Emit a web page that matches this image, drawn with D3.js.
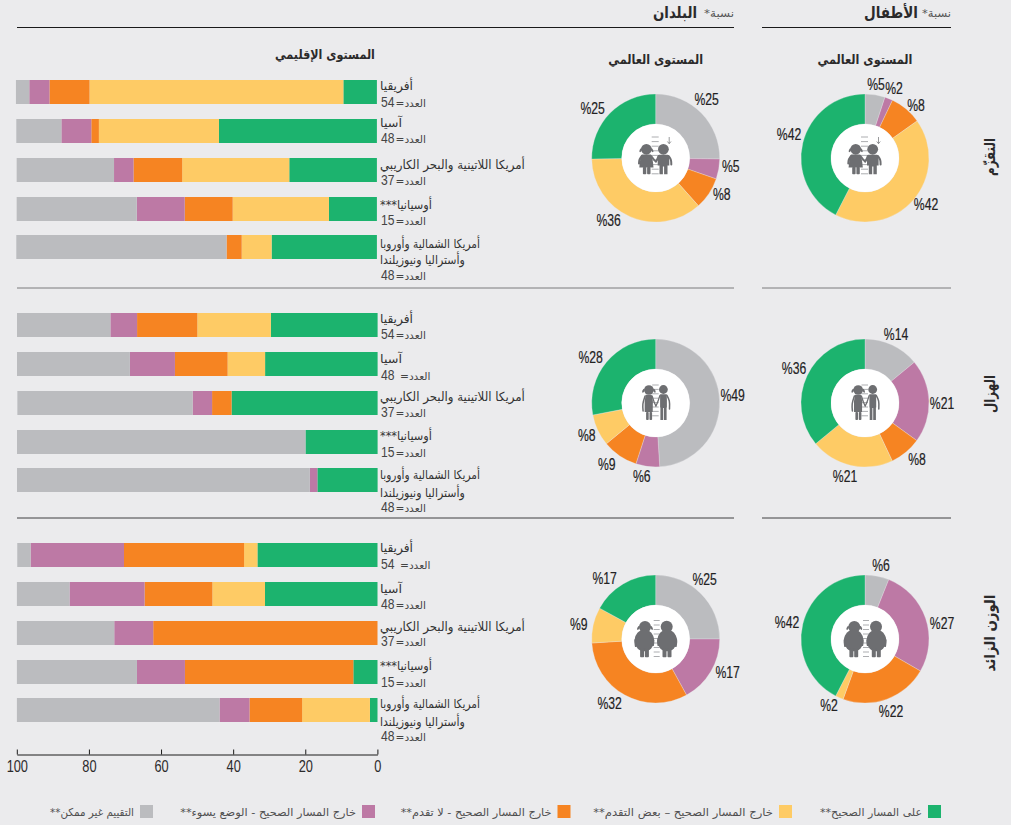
<!DOCTYPE html>
<html lang="ar"><head><meta charset="utf-8">
<script src="https://cdn.jsdelivr.net/npm/d3@7"></script>
<style>
html,body{margin:0;padding:0;background:#ebebed}
svg{display:block}
text{fill:#2b2a2b}
</style></head><body><div id="chart"></div>
<script>
// ---------- data ----------
const statusLabels = ["على المسار الصحيح**","خارج المسار الصحيح – بعض التقدم**","خارج المسار الصحيح - لا تقدم**","خارج المسار الصحيح - الوضع يسوء**","التقييم غير ممكن**"];
const statusKeys = ["onTrack","someProgress","noProgress","worsening","notAssessed"];
const statusColors = ["#1cb36e","#fecb65","#f68422","#bd79a5","#bbbcbf"];
const regionNames = [["أفريقيا"],["آسيا"],["أمريكا اللاتينية والبحر الكاريبي"],["أوسيانيا***"],["أمريكا الشمالية وأوروبا","وأستراليا ونيوزيلندا"]];
const regionCounts = [54,48,37,15,48];
const axisTicks = [100,80,60,40,20,0];
const sideTitles = ["التقزّم","الهزال","الوزن الزائد"];

// regional shares, in region order; one list per status
const stuntingOnTrack = [9.3,43.8,24.3,13.3,29.2];
const stuntingSome = [70.4,33.3,29.7,26.7,8.3];
const stuntingNone = [11.1,2.1,13.5,13.3,4.2];
const stuntingWorse = [5.6,8.3,5.4,13.3,0];
const stuntingNA = [3.7,12.5,27,33.3,58.3];

const wastingOnTrack = [29.6,31.2,40.5,20,16.7];
const wastingSome = [20.4,10.4,0,0,0];
const wastingNone = [16.7,14.6,5.4,0,0];
const wastingWorse = [7.4,12.5,5.4,0,2.1];
const wastingNA = [25.9,31.3,48.6,80,81.2];

const overweightOnTrack = [33.3,31.2,0,6.7,2.1];
const overweightSome = [3.7,14.6,0,0,18.8];
const overweightNone = [33.3,18.8,62.2,46.7,14.6];
const overweightWorse = [25.9,20.8,10.8,13.3,8.3];
const overweightNA = [3.7,14.6,27,33.3,56.2];

// global shares, clockwise from 12 o'clock: not assessed, worsening, no progress, some progress, on track
const donutOrder = ["notAssessed","worsening","noProgress","someProgress","onTrack"];
const stuntingChildren = [5,2,8,42,42];
const stuntingCountries = [25,5,8,36,25];
const wastingChildren = [14,21,8,21,36];
const wastingCountries = [49,6,9,8,28];
const overweightChildren = [6,27,22,2,42];
const overweightCountries = [25,17,32,9,17];

// ---------- layout ----------
const W = 1011, H = 825;
const svg = d3.select("#chart").append("svg").attr("width",W).attr("height",H)
  .style("background","#ebebed");
const latin = "'Liberation Sans',sans-serif";
const arab = "'DejaVu Sans',sans-serif";

const x = d3.scaleLinear().domain([100,0]).range([16.8,377.4]);
const color = d3.scaleOrdinal().domain(statusKeys).range(statusColors);
const stack = d3.stack().keys(statusKeys);
const barH = 24;
const pie = d3.pie().sort(null).value(d=>d.value);
const arc = d3.arc().innerRadius(34).outerRadius(64);

// squeeze text horizontally to a target width, around its anchor point
function fit(sel,w){
  const n = sel.node(), px = +sel.attr("x"), py = +sel.attr("y");
  const s = w/n.getComputedTextLength();
  return sel.attr("x",0).attr("y",0).attr("transform",`translate(${px},${py}) scale(${s},1)`);
}
function condense(sel,f){
  sel.each(function(){
    const t = d3.select(this), px = +t.attr("x"), py = +t.attr("y");
    t.attr("x",0).attr("y",0).attr("transform",`translate(${px},${py}) scale(${f},1)`);
  });
  return sel;
}
function label(g,t,px,py,size,w,opts={}){
  const s = g.append("text").attr("x",px).attr("y",py).text(t)
    .style("font-family",opts.font||arab).style("font-size",size+"px")
    .style("font-weight",opts.bold?"bold":"normal")
    .style("direction","rtl").attr("text-anchor",opts.anchor||"end");
  if(opts.fill) s.style("fill",opts.fill);
  if(w) fit(s,w);
  return s;
}

const nameWidths = [[33],[22],[145],[52],[100,85]];

const panels = [
 { dx:-0.5, tops:[80,119,158,197,235], series:[stuntingOnTrack,stuntingSome,stuntingNone,stuntingWorse,stuntingNA],
   bases:[[90,107],[127,143],[169,185],[209,225],[248,264,280]], gaps:[false,false,false,false,false] },
 { dx:0.2, tops:[313,352,391,430,468], series:[wastingOnTrack,wastingSome,wastingNone,wastingWorse,wastingNA],
   bases:[[323,339],[363,380],[401,417],[440,457],[479,497,512]], gaps:[false,true,false,false,false] },
 { dx:0.1, tops:[543,582,621,660,698], series:[overweightOnTrack,overweightSome,overweightNone,overweightWorse,overweightNA],
   bases:[[552,569],[593,609],[631,646],[670,687],[708,726,741]], gaps:[true,false,false,false,false] }
];

// bars
panels.forEach((p,pi)=>{
  const table = regionCounts.map((n,i)=>{
    const row = {i};
    statusKeys.forEach((k,j)=> row[k]=p.series[j][i]);
    return row;
  });
  const g = svg.append("g").attr("class","panel");
  g.append("g").attr("transform",`translate(${p.dx},0)`)
    .selectAll("g.layer").data(stack(table)).join("g").attr("class","layer")
    .attr("fill",d=>color(d.key))
    .selectAll("rect").data(d=>d).join("rect")
      .attr("x",d=>x(d[1]))
      .attr("width",d=>x(d[0])-x(d[1]))
      .attr("y",d=>p.tops[d.data.i])
      .attr("height",barH);
  regionNames.forEach((lines,i)=>{
    lines.forEach((ln,li)=> label(g,ln,380,p.bases[i][li],12.5,nameWidths[i][li],{fill:"#333"}));
    const base = p.bases[i][lines.length];
    const num = g.append("text").attr("x",381).attr("y",base).text(regionCounts[i])
      .style("font-family",latin).style("font-size","15px").style("fill","#444");
    fit(num,13.5);
    const word = g.append("text").attr("x",p.gaps[i]?400:395.5).attr("y",base).text("العدد=")
      .style("direction","rtl").attr("text-anchor","end")
      .style("font-family",arab).style("font-size","10px").style("fill","#444");
    fit(word,30.5);
  });
});

// rules
[[27.5,"#1a1a1a"],[288,"#7a7a7c"],[518,"#3f3f40"]].forEach(([y,c])=>{
  [[17,734],[762,951]].forEach(([a,b])=>{
    svg.append("line").attr("x1",a).attr("x2",b).attr("y1",y).attr("y2",y)
      .attr("stroke",c).attr("stroke-width",1);
  });
});

// axis
const axis = d3.axisBottom(x).tickValues(axisTicks).tickSize(-5).tickSizeOuter(0).tickPadding(0);
const ax = svg.append("g").attr("transform","translate(0,754.5)").call(axis);
ax.select(".domain").attr("stroke","#1a1a1a").attr("stroke-width",1);
ax.selectAll(".tick line").attr("stroke","#1a1a1a").attr("stroke-width",1);
ax.selectAll(".tick text").attr("x",0).attr("y",17).attr("dy",null)
  .style("font-family",latin).style("font-size","16px").style("fill","#2b2a2b")
  .call(condense,0.8);

// headers
label(svg,"نسبة*",951,17,11,29,{fill:"#555",anchor:"start"});
label(svg,"الأطفال",918,18,16,54,{bold:true,anchor:"start"});
label(svg,"نسبة*",734,17,11,30,{fill:"#555",anchor:"start"});
label(svg,"البلدان",697,18,16,44,{bold:true,anchor:"start"});
label(svg,"المستوى الإقليمي",325,59,13,100,{bold:true,anchor:"middle"});
label(svg,"المستوى العالمي",655.7,64,13,95,{bold:true,anchor:"middle"});
label(svg,"المستوى العالمي",865,64,13,95,{bold:true,anchor:"middle"});

// side titles
[[157,38],[394,38],[633,77]].forEach(([cy,w],i)=>{
  const s = svg.append("text").attr("text-anchor","middle").style("direction","rtl")
    .style("font-family",arab).style("font-size","15px").style("font-weight","bold").text(sideTitles[i]);
  const k = w/s.node().getComputedTextLength();
  s.attr("transform",`translate(995,${cy}) rotate(-90) scale(${k},1)`);
});

// children icons, drawn around the donut centre
const iconGrey = "#6d6e71";
function rungs(g,x0,x1,y0,y1,step){
  d3.range(y0,y1+0.01,step).forEach(y=>g.append("line").attr("x1",x0).attr("x2",x1).attr("y1",y).attr("y2",y)
    .attr("stroke","#a3a4a7").attr("stroke-width",0.9));
}
function limb(g,pts,w){
  g.append("path").attr("d",d3.line().curve(d3.curveCatmullRom)(pts)).attr("fill","none")
   .attr("stroke",iconGrey).attr("stroke-width",w).attr("stroke-linecap","round");
}
function fill(g,d){ g.append("path").attr("d",d).attr("fill",iconGrey); }
function circ(g,cx,cy,r){ g.append("circle").attr("cx",cx).attr("cy",cy).attr("r",r).attr("fill",iconGrey); }
function box(g,bx,by,w,h){ g.append("rect").attr("x",bx).attr("y",by).attr("width",w).attr("height",h).attr("rx",0.8).attr("fill",iconGrey); }
function tail(g,cx,cy,rot){ g.append("ellipse").attr("rx",2.1).attr("ry",1).attr("fill",iconGrey).attr("transform",`translate(${cx},${cy}) rotate(${rot})`); }
const icons = {
 stunted(g){
  rungs(g,-4,3,-21,16,4.6);
  circ(g,-9.3,-8.7,5.4); tail(g,-15,-7.8,-62); tail(g,-3.6,-7.8,62);
  fill(g,"M-13-3.4H-5.6Q-3-2-2.2 9.5H-16.4Q-15.6-2-13-3.4Z");
  limb(g,[[-13.6,-2.4],[-16,1.5],[-16.6,5.5]],2.2);
  limb(g,[[-5,-2.4],[-2.4,0.8],[0.2,3.5]],2);
  box(g,-12.8,9,3.4,7.2); box(g,-8.6,9,3.4,7.2);
  circ(g,7.7,-8.7,5.4);
  fill(g,"M3.4-3.2H12Q13.6-3.2 13.6-1V7.5H11.8V16.2H8.4V8.5H7.2V16.2H3.8V7.5H2V-1Q2-3.2 3.4-3.2Z");
  limb(g,[[2.8,-1.8],[1.4,1.5],[0.2,3.5]],2);
  limb(g,[[13,-1.8],[15.2,2],[15.6,6.5]],2);
  g.append("path").attr("d","M13.5-21V-14.5M11.7-16.5L13.5-14.3L15.3-16.5").attr("fill","none").attr("stroke",iconGrey).attr("stroke-width",0.7);
 },
 wasted(g){
  rungs(g,-3.5,3,-18,17,4.4);
  circ(g,-6.8,-13,4.8); tail(g,-12.2,-12.2,-62); tail(g,-1.4,-12.2,62);
  fill(g,"M-10-8.2H-4L-2.8-2-3 9H-11L-11-2Z");
  limb(g,[[-10.6,-7],[-12.8,1],[-12.6,8]],1.5);
  limb(g,[[-3.6,-7],[-1.6,-1],[0.2,3]],1.3);
  box(g,-9.6,9,2.6,8); box(g,-6.2,9,2.6,8);
  circ(g,7.7,-13.5,4.4);
  fill(g,"M4.4-8.8H11L11.2-3V4.5H10.9V17H8.2V5H7.4V17H4.7V4.5H4.4Z");
  limb(g,[[4.2,-7.6],[2.2,-1.5],[0.2,3]],1.3);
  limb(g,[[11.2,-7.6],[13.6,-2],[13.8,6]],1.5);
 },
 overweight(g){
  rungs(g,-2,4,-18.5,18,4.5);
  circ(g,-10.7,-12,6); tail(g,-17.3,-11,-62); tail(g,-4.1,-11,62);
  g.append("ellipse").attr("cx",-11.3).attr("cy",1.5).attr("rx",9.8).attr("ry",10.8).attr("fill",iconGrey);
  limb(g,[[-17.5,-4],[-20.2,1],[-19.8,7]],2.2);
  limb(g,[[-5,-4],[-2.6,1],[-2.8,6]],2.2);
  box(g,-15.6,9,4,9.2); box(g,-10.8,9,4,9.2);
  circ(g,11,-12.3,6);
  g.append("ellipse").attr("cx",11.4).attr("cy",1.5).attr("rx",9.8).attr("ry",10.8).attr("fill",iconGrey);
  limb(g,[[5,-4],[2.6,1],[2.8,6]],2.2);
  limb(g,[[17.8,-4],[20.4,1],[20,7]],2.2);
  box(g,6.8,9,4,9.2); box(g,11.8,9,4,9.2);
 }
};

// donuts; label offsets are measured from each donut's centre, in donutOrder
const donuts = [
 {values:stuntingCountries, cx:655.7, cy:158, icon:"stunted", at:[[51,-59],[75,8],[66,36],[-47,62],[-63,-50]]},
 {values:stuntingChildren, cx:865, cy:158, icon:"stunted", at:[[11,-74],[29,-70],[51,-53],[61,46],[-76,-24]]},
 {values:wastingCountries, cx:655.7, cy:403, icon:"wasted", at:[[77,-8],[-14,73],[-49,61],[-69,32],[-65,-46]]},
 {values:wastingChildren, cx:865, cy:403, icon:"wasted", at:[[31,-69],[77,0],[52,56],[-20,73],[-71,-35]]},
 {values:overweightCountries, cx:655.7, cy:639, icon:"overweight", at:[[49,-60],[72,33],[-46,64],[-77,-15],[-51,-61]]},
 {values:overweightChildren, cx:865, cy:639, icon:"overweight", at:[[16,-74],[77,-16],[26,72],[-36,66],[-78,-17]]}
];
donuts.forEach(dn=>{
  const g = svg.append("g").attr("transform",`translate(${dn.cx},${dn.cy})`);
  const rows = donutOrder.map((k,i)=>({key:k,value:dn.values[i],i}));
  g.selectAll("path.slice").data(pie(rows)).join("path").attr("class","slice")
    .attr("d",arc).attr("fill",d=>color(d.data.key))
    .attr("stroke","#ebebed").attr("stroke-width",0.3);
  g.append("circle").attr("r",34).attr("fill","#fff");
  icons[dn.icon](g.append("g"));
  g.selectAll("text.pct").data(rows).join("text").attr("class","pct")
    .attr("x",d=>dn.at[d.i][0]).attr("y",d=>dn.at[d.i][1]).attr("dy","0.36em")
    .attr("text-anchor","middle")
    .style("font-family",latin).style("font-size","16.5px").style("fill","#232223")
    .style("stroke","#232223").style("stroke-width","0.2px")
    .text(d=>"%"+d.value)
    .call(condense,0.74);
});

// legend
const legendSwatch = [928,779,557.5,362,140];
const legendWidth = [102,180,151,176,84];
statusKeys.forEach((k,i)=>{
  svg.append("rect").attr("x",legendSwatch[i]).attr("y",805).attr("width",13).attr("height",13).attr("fill",color(k));
  const t = svg.append("text").attr("x",legendSwatch[i]-6).attr("y",815.5).text(statusLabels[i])
    .style("direction","rtl").attr("text-anchor","start")
    .style("font-family",arab).style("font-size","11px").style("fill","#4f4f50");
  fit(t,legendWidth[i]);
});
</script></body></html>
